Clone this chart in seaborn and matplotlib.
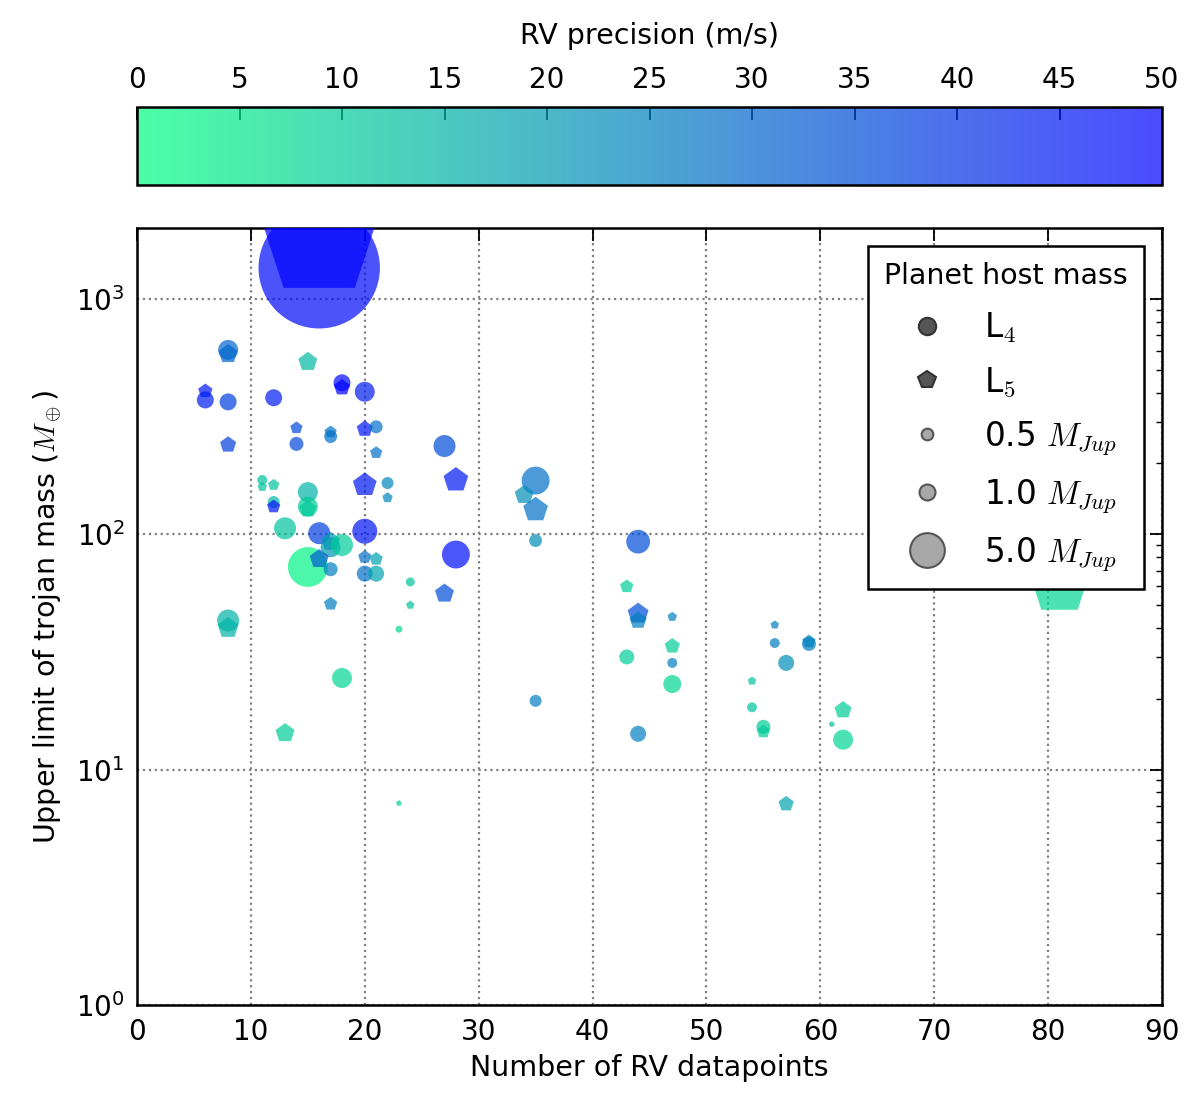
import numpy as np
import pandas as pd
import matplotlib
matplotlib.use("Agg")
import matplotlib.pyplot as plt
from matplotlib.lines import Line2D
from matplotlib.ticker import LogLocator
import seaborn as sns

# ---- data ----
n_rv = [8, 8, 6, 6, 8, 8, 12, 15, 18, 18, 20, 14, 14, 17, 17, 20, 21, 21,
        11, 11, 12, 12, 12, 15, 15, 15, 20, 22, 22, 13, 16, 17, 17, 18, 15,
        16, 17, 20, 20, 20, 21, 21, 24, 24, 23, 17, 8, 8, 18, 13, 23, 27,
        28, 35, 34, 35, 35, 28, 27, 44, 43, 44, 44, 47, 47, 47, 47, 43, 35,
        44, 56, 56, 59, 59, 57, 54, 54, 55, 55, 62, 61, 62, 57, 81, 16, 16]
trojan_mass = [607, 583, 406, 372, 365, 240, 380, 540, 440, 420, 403, 283,
               242, 272, 260, 280, 286, 222, 170, 159, 162, 137, 131, 151,
               131, 128, 162, 165, 143, 106, 101, 93, 88, 90, 72.6, 78.5,
               71, 103, 80, 68, 78.5, 68, 62.7, 50, 39.5, 50.6, 43, 40,
               24.5, 14.3, 7.2, 237, 170, 169, 147, 127, 94, 82, 56, 93,
               60, 46, 43, 44.6, 33.5, 28.4, 23.1, 30.1, 19.6, 14.2, 41.2,
               34.5, 34.2, 35, 28.4, 23.8, 18.4, 15.2, 14.5, 17.9, 15.6,
               13.4, 7.15, 61, 1355, 1800]
rv_precision = [30, 30, 46, 44, 38, 38, 44, 14, 48, 50, 44, 36, 36, 28, 28,
                46, 28, 28, 12, 12, 12, 14, 46, 15, 10, 10, 45, 24, 24, 12,
                38, 20, 20, 10, 2, 32, 25, 46, 28, 28, 18, 18, 12, 12, 8,
                25, 15, 15, 8, 10, 10, 35, 45, 28, 22, 28, 22, 47, 35, 35,
                10, 35, 25, 25, 10, 25, 8, 10, 25, 25, 25, 25, 25, 25, 22,
                12, 12, 10, 10, 10, 12, 8, 18, 8, 48, 50]
host_mass = [1.6, 1.6, 0.87, 1.14, 1.14, 1.14, 1.14, 1.6, 1.14, 1.14, 1.6,
             0.63, 0.75, 0.63, 0.63, 1.14, 0.63, 0.63, 0.34, 0.34, 0.53,
             0.53, 0.75, 1.6, 1.6, 1.29, 2.55, 0.53, 0.43, 1.96, 1.96, 1.6,
             1.6, 1.96, 6.6, 1.6, 0.75, 2.55, 0.75, 1.0, 0.75, 1.0, 0.26,
             0.26, 0.13, 0.75, 1.96, 1.96, 1.6, 1.6, 0.08, 1.96, 2.76, 3.2,
             1.6, 2.76, 0.63, 3.2, 1.6, 2.3, 0.75, 1.96, 1.29, 0.34, 1.0,
             0.34, 1.29, 0.87, 0.53, 1.0, 0.26, 0.34, 0.75, 0.75, 1.0,
             0.26, 0.34, 0.75, 0.75, 1.29, 0.05, 1.6, 1.0, 16, 62, 62]
lagrange = ['L4', 'L5', 'L5', 'L4', 'L4', 'L5', 'L4', 'L5', 'L4', 'L5', 'L4',
            'L5', 'L4', 'L5', 'L4', 'L5', 'L4', 'L5', 'L4', 'L5', 'L5', 'L4',
            'L5', 'L4', 'L4', 'L5', 'L5', 'L4', 'L5', 'L4', 'L4', 'L5', 'L4',
            'L4', 'L4', 'L5', 'L4', 'L4', 'L5', 'L4', 'L5', 'L4', 'L4', 'L5',
            'L4', 'L5', 'L4', 'L5', 'L4', 'L5', 'L5', 'L4', 'L5', 'L4', 'L5',
            'L5', 'L4', 'L4', 'L5', 'L4', 'L5', 'L5', 'L5', 'L5', 'L5', 'L4',
            'L4', 'L4', 'L4', 'L4', 'L5', 'L4', 'L4', 'L5', 'L4', 'L5', 'L4',
            'L4', 'L5', 'L5', 'L4', 'L4', 'L5', 'L5', 'L4', 'L5']
legend_masses = [0.5, 1.0, 5.0]

df = pd.DataFrame({"n": n_rv, "m": trojan_mass, "prec": rv_precision,
                   "host": host_mass, "pt": lagrange})

# ---- style ----
sns.set_style("white")
plt.rcParams.update({
    "font.family": ["DejaVu Sans"],
    "mathtext.fontset": "cm",
    "font.size": 20,
    "axes.linewidth": 1.8,
    "text.color": "black",
    "axes.labelcolor": "black",
    "axes.edgecolor": "black",
    "xtick.color": "black",
    "ytick.color": "black",
})

S0, S1 = 9.3, 123.0   # marker area (pt^2) = S0 + S1 * host mass

fig = plt.figure(figsize=(12, 11.05), dpi=100)
ax = fig.add_axes([137/1200, 100/1105, 1025/1200, 777/1105])
cax = fig.add_axes([137/1200, 920/1105, 1025/1200, 78/1105])

cmap = "winter_r"
sns.scatterplot(data=df, x="n", y="m", hue="prec", palette=cmap,
                hue_norm=(0, 50), size="host", sizes=(S0, S0 + S1 * 100),
                size_norm=(0, 100), style="pt",
                markers={"L4": "o", "L5": "p"}, alpha=0.7, linewidth=0,
                legend=False, ax=ax, zorder=3)

ax.set_yscale("log")
ax.set_xlim(0, 90)
ax.set_ylim(1, 2000)
ax.set_xticks(range(0, 91, 10))
ax.yaxis.set_major_locator(LogLocator(base=10, numticks=10))
ax.yaxis.set_minor_locator(LogLocator(base=10, subs=np.arange(2, 10), numticks=20))
ax.grid(True, which="major", color="gray", linestyle=":", linewidth=1.6, zorder=0)
ax.set_axisbelow(True)
ax.tick_params(which="both", direction="in", top=True, right=True,
               labelsize=20, pad=9)
ax.tick_params(which="major", length=9, width=1.3)
ax.tick_params(which="minor", length=4.5, width=1.0)
for sp in ax.spines.values():
    sp.set_linewidth(1.8)
    sp.set_color("black")
ax.set_xlabel("Number of RV datapoints", fontsize=20.5, labelpad=6)
ax.set_ylabel("Upper limit of trojan mass ($M_\\oplus$)", fontsize=20.5, labelpad=8)

# ---- colorbar ----
sm = plt.cm.ScalarMappable(cmap=cmap, norm=plt.Normalize(0, 50))
cb = fig.colorbar(sm, cax=cax, orientation="horizontal", alpha=0.7)
cb.set_ticks(range(0, 51, 5))
cax.xaxis.set_ticks_position("top")
cax.xaxis.set_label_position("top")
cax.tick_params(direction="in", length=9, width=1.3, labelsize=20, pad=9,
                color="black")
cb.outline.set_linewidth(1.8)
cb.outline.set_edgecolor("black")
cb.set_label("RV precision (m/s)", fontsize=20.5, labelpad=16)

# ---- legend ----
handles = [
    Line2D([], [], ls="", marker="o", ms=12.5, mfc="#555555", mec="#333333", mew=1.5),
    Line2D([], [], ls="", marker="p", ms=13, mfc="#555555", mec="#333333", mew=1.5),
]
labels = ["L$_4$", "L$_5$"]
for hm in legend_masses:
    handles.append(Line2D([], [], ls="", marker="o", ms=np.sqrt(S0 + S1 * hm),
                          mfc="#a8a8a8", mec="#555555", mew=1.5))
    labels.append(f"{hm:.1f} $M_{{Jup}}$")
leg = ax.legend(handles, labels, title="Planet host mass", loc="upper right",
                fontsize=23.5, title_fontsize=20.5, frameon=True, fancybox=False,
                edgecolor="black", framealpha=1, labelspacing=0.62,
                handletextpad=0.75, borderpad=0.5, borderaxespad=0.55)
leg.get_frame().set_linewidth(1.8)

fig.savefig("out.png", dpi=100)
